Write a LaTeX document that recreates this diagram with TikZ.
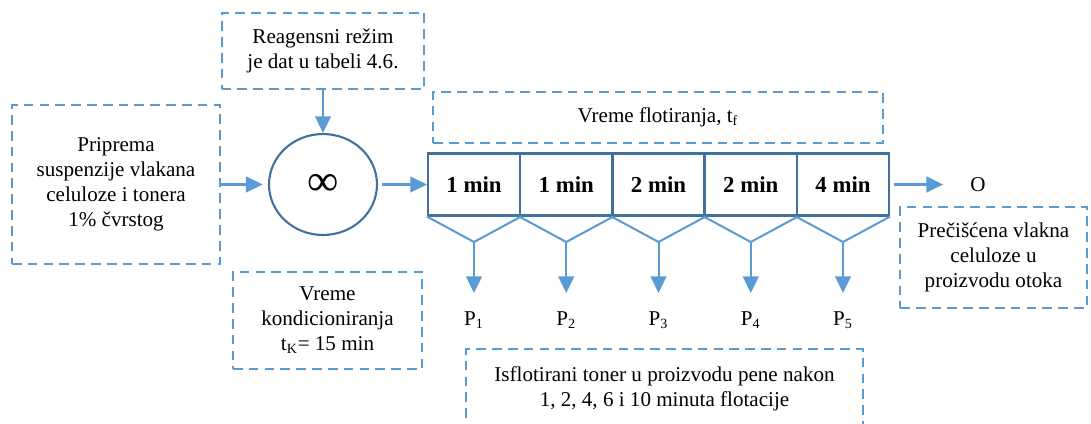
\documentclass[tikz,border=0pt]{standalone}
\usepackage{fontspec}
\setmainfont{Liberation Serif}
\usepackage{tikz}
\usetikzlibrary{arrows.meta,shapes.geometric}
\definecolor{lblue}{HTML}{5B9BD5}
\definecolor{dblue}{HTML}{41719C}

\begin{document}
\begin{tikzpicture}[x=0.02cm,y=-0.02cm,
  dbox/.style={draw=lblue,line width=1.15pt,dash pattern=on 5.5pt off 3.5pt,
    align=center,font=\fontsize{12}{14.2}\selectfont},
  stagebox/.style={draw=dblue,line width=1.2pt,minimum width=1.84cm,
    minimum height=1.24cm,font=\fontsize{13}{15}\selectfont\bfseries},
  arr/.style={lblue,line width=1.15pt,-{Triangle[length=9.5pt,width=9pt]}},
  lbl/.style={font=\fontsize{12}{14}\selectfont}]
\useasboundingbox (0,0) rectangle (1091,423);
% ulazni podaci
\node at (116,184.5) [dbox,minimum width=4.16cm,minimum height=3.18cm] (prip)
  {Priprema\\suspenzije vlakana\\celuloze i tonera\\1\% čvrstog};
\node at (323,51) [dbox,minimum width=4.06cm,minimum height=1.52cm] (reag)
  {Reagensni režim\\je dat u tabeli 4.6.};
\node at (323,184.5) [ellipse,draw=dblue,line width=1.2pt,inner sep=0pt,
  minimum width=2.16cm,minimum height=2.02cm,font=\fontsize{25}{25}\selectfont] (mix) {∞};
\node at (327.5,320.5) [dbox,minimum width=3.78cm,minimum height=1.94cm] (kond)
  {Vreme\\kondicioniranja\\t\textsubscript{K}= 15 min};
\draw[arr,shorten >=3pt] (prip) -- (mix);
\draw[arr] (reag) -- (mix);
% flotacija
\node at (658,117.5) [dbox,minimum width=9cm,minimum height=1.02cm] (flot)
  {Vreme flotiranja, t\textsubscript{f}};
\foreach \t [count=\i] in {1,1,2,2,4}{
  \node at ({474+92.25*(\i-1)},184.5) [stagebox] (s\i) {\t~min};}
\foreach \i in {1,...,5}{
  \pgfmathsetmacro\x{474+92.25*(\i-1)}
  \coordinate (v\i) at (\x,242);
  \node at (\x,320) [lbl] (p\i) {P\textsubscript{\i}};
  \draw[lblue,line width=1.15pt] (s\i.south west) -- (v\i) -- (s\i.south east);
  \draw[arr,shorten >=7pt] (v\i) -- (p\i);
}
\draw[arr,shorten <=2pt] (mix) -- (s1);
% izlaz
\node at (978,184.5) [lbl] (out) {O};
\draw[arr,shorten <=2pt,shorten >=12pt] (s5) -- (out);
\node at (993.5,257.5) [dbox,minimum width=3.74cm,minimum height=2.02cm] (prec)
  {Prečišćena vlakna\\celuloze u\\proizvodu otoka};
\node at (664.5,389) [dbox,minimum width=7.94cm,minimum height=1.6cm] (isfl)
  {Isflotirani toner u proizvodu pene nakon\\1, 2, 4, 6 i 10 minuta flotacije};
\end{tikzpicture}
\end{document}
